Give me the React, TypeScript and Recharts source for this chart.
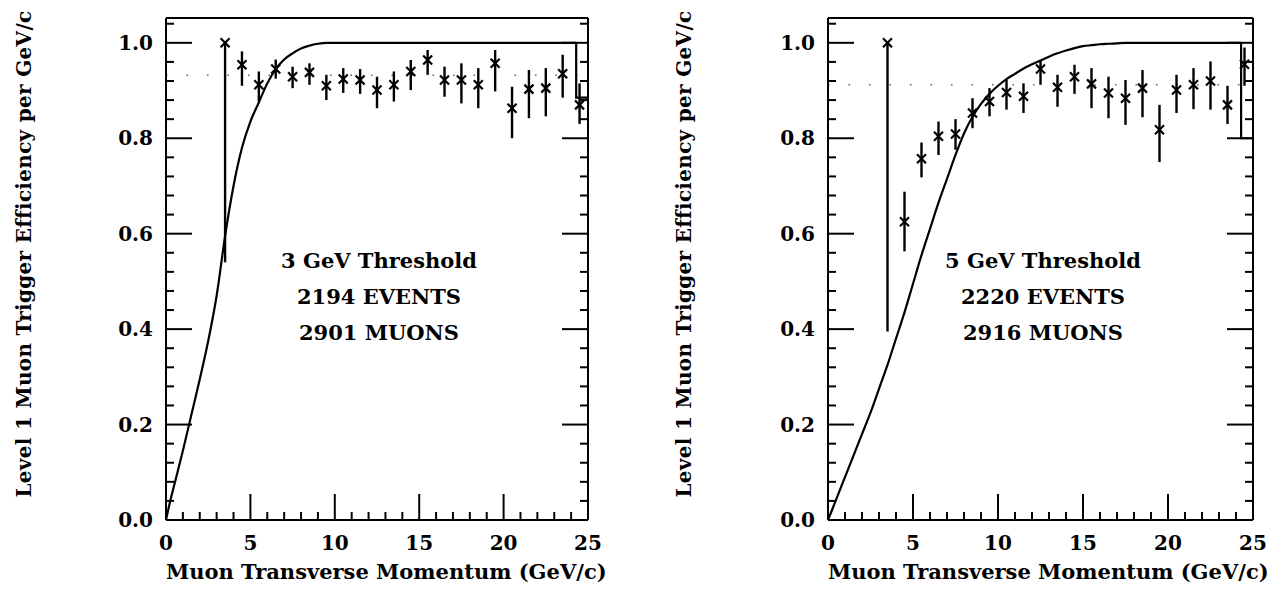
import React from "react";
import { ComposedChart, Line, Scatter, ErrorBar, XAxis, YAxis, ReferenceLine } from "recharts";

const FONT = '"DejaVu Serif", serif';

// bin centres, GeV/c
const binCenters = [
  3.5, 4.5, 5.5, 6.5, 7.5, 8.5, 9.5, 10.5, 11.5, 12.5, 13.5,
  14.5, 15.5, 16.5, 17.5, 18.5, 19.5, 20.5, 21.5, 22.5, 23.5, 24.5,
];

// 3 GeV threshold: efficiency, lower and upper end of error bar
const eff3 = [1.0, 0.954, 0.912, 0.945, 0.929, 0.938, 0.91, 0.924, 0.922, 0.901, 0.912, 0.94, 0.964, 0.922, 0.922, 0.912, 0.957, 0.863, 0.903, 0.905, 0.935, 0.87];
const lo3 = [0.54, 0.91, 0.877, 0.925, 0.905, 0.912, 0.88, 0.895, 0.893, 0.863, 0.877, 0.901, 0.933, 0.887, 0.873, 0.863, 0.898, 0.8, 0.842, 0.846, 0.885, 0.83];
const hi3 = [1.0, 0.982, 0.94, 0.965, 0.95, 0.957, 0.933, 0.947, 0.945, 0.929, 0.94, 0.964, 0.985, 0.95, 0.957, 0.947, 0.985, 0.908, 0.943, 0.947, 0.975, 0.915];

// 5 GeV threshold
const eff5 = [1.0, 0.625, 0.757, 0.804, 0.809, 0.853, 0.877, 0.896, 0.888, 0.945, 0.907, 0.929, 0.914, 0.895, 0.884, 0.905, 0.818, 0.901, 0.912, 0.92, 0.87, 0.955];
const lo5 = [0.395, 0.563, 0.718, 0.765, 0.776, 0.821, 0.846, 0.86, 0.853, 0.912, 0.866, 0.893, 0.863, 0.842, 0.828, 0.844, 0.75, 0.853, 0.861, 0.86, 0.83, 0.91];
const hi5 = [1.0, 0.688, 0.791, 0.835, 0.84, 0.884, 0.905, 0.922, 0.915, 0.964, 0.933, 0.954, 0.947, 0.929, 0.922, 0.943, 0.87, 0.933, 0.947, 0.961, 0.91, 0.99];

// simulated turn-on curves
const curveX = [
  0, 0.25, 0.5, 1, 1.5, 2, 2.5, 3, 3.5, 4, 4.5, 5, 5.5, 6, 6.5, 7, 7.5, 8, 8.5,
  9, 9.5, 10, 10.5, 11, 11.5, 12, 12.5, 13, 13.5, 14, 14.5, 15, 15.5, 16, 16.5,
  17, 17.5, 18, 20, 22, 24.3,
];
const turnOn3 = [
  0, 0.04, 0.075, 0.145, 0.22, 0.295, 0.375, 0.47, 0.595, 0.7, 0.78, 0.835, 0.875,
  0.915, 0.945, 0.965, 0.978, 0.988, 0.994, 0.998, 1, 1, 1, 1, 1, 1, 1, 1, 1, 1,
  1, 1, 1, 1, 1, 1, 1, 1, 1, 1, 1,
];
const turnOn5 = [
  0, 0.022, 0.045, 0.09, 0.135, 0.18, 0.225, 0.275, 0.325, 0.38, 0.435, 0.495,
  0.555, 0.61, 0.665, 0.715, 0.765, 0.81, 0.845, 0.872, 0.893, 0.91, 0.924, 0.935,
  0.946, 0.955, 0.963, 0.971, 0.978, 0.984, 0.989, 0.993, 0.995, 0.997, 0.998,
  0.999, 1, 1, 1, 1, 1,
];

// last-bin step of each curve
const edgeX = [24.3, 24.3, 25];
const edge3 = [1, 0.885, 0.885];
const edge5 = [1, 0.8, 0.8];

const xTicks = [0, 1, 2, 3, 4, 5, 6, 7, 8, 9, 10, 11, 12, 13, 14, 15, 16, 17, 18, 19, 20, 21, 22, 23, 24, 25];
const yTicks = [
  0, 0.04, 0.08, 0.12, 0.16, 0.2, 0.24, 0.28, 0.32, 0.36, 0.4, 0.44, 0.48, 0.52,
  0.56, 0.6, 0.64, 0.68, 0.72, 0.76, 0.8, 0.84, 0.88, 0.92, 0.96, 1.0, 1.04,
];

const panels = [
  {
    title: "3 GeV Threshold",
    events: "2194 EVENTS",
    muons: "2901 MUONS",
    eff: eff3, lo: lo3, hi: hi3, curve: turnOn3, edge: edge3, plateau: 0.932,
    left: 0, width: 640, margin: { top: 8, left: 106, right: 42, bottom: 29 },
    textX: 379, plotX: 166, plotW: 422,
  },
  {
    title: "5 GeV Threshold",
    events: "2220 EVENTS",
    muons: "2916 MUONS",
    eff: eff5, lo: lo5, hi: hi5, curve: turnOn5, edge: edge5, plateau: 0.912,
    left: 660, width: 617, margin: { top: 8, left: 108, right: 14, bottom: 29 },
    textX: 383, plotX: 168, plotW: 425,
  },
];

const MAJOR = 26;
const MINOR = 8;
const TICK_FONT = 20;

const isMajorX = (v: number) => v % 5 === 0;
const isMajorY = (v: number) => Math.abs(v * 5 - Math.round(v * 5)) < 1e-6;

const BottomTick = ({ x, y, payload }: any) => {
  const v = payload.value;
  const major = isMajorX(v);
  return (
    <g>
      <line x1={x} y1={y} x2={x} y2={y - (major ? MAJOR : MINOR)} stroke="#000" strokeWidth={2} />
      {major && (
        <text x={x} y={y + 30} textAnchor="middle" fontFamily={FONT} fontWeight="bold" fontSize={TICK_FONT} fill="#000">
          {v}
        </text>
      )}
    </g>
  );
};

const TopTick = ({ x, y, payload }: any) => (
  <line x1={x} y1={y} x2={x} y2={y + (isMajorX(payload.value) ? MAJOR : MINOR)} stroke="#000" strokeWidth={2} />
);

const LeftTick = ({ x, y, payload }: any) => {
  const v = payload.value;
  const major = isMajorY(v);
  return (
    <g>
      <line x1={x} y1={y} x2={x + (major ? MAJOR : MINOR)} y2={y} stroke="#000" strokeWidth={2} />
      {major && (
        <text x={x - 13} y={y + 7} textAnchor="end" fontFamily={FONT} fontWeight="bold" fontSize={TICK_FONT} fill="#000">
          {v.toFixed(1)}
        </text>
      )}
    </g>
  );
};

const RightTick = ({ x, y, payload }: any) => (
  <line x1={x} y1={y} x2={x - (isMajorY(payload.value) ? MAJOR : MINOR)} y2={y} stroke="#000" strokeWidth={2} />
);

const Cross = ({ cx, cy }: any) => {
  const s = 4.5;
  return (
    <g stroke="#000" strokeWidth={2.2}>
      <line x1={cx - s} y1={cy - s} x2={cx + s} y2={cy + s} />
      <line x1={cx - s} y1={cy + s} x2={cx + s} y2={cy - s} />
    </g>
  );
};

const textStyle: React.CSSProperties = {
  position: "absolute",
  fontFamily: FONT,
  fontWeight: "bold",
  color: "#000",
  whiteSpace: "nowrap",
};

const Panel = ({ panel }: any) => {
  const points = binCenters.map((x, i) => ({
    x,
    y: panel.eff[i],
    err: [panel.eff[i] - panel.lo[i], panel.hi[i] - panel.eff[i]],
  }));
  const curve = curveX.map((x, i) => ({ x, y: panel.curve[i] }));
  const edge = edgeX.map((x, i) => ({ x, y: panel.edge[i] }));

  return (
    <div style={{ position: "absolute", left: panel.left, top: 0, width: panel.width, height: 589 }}>
      <ComposedChart width={panel.width} height={589} margin={panel.margin}>
        <XAxis
          xAxisId={0}
          type="number"
          dataKey="x"
          domain={[0, 25]}
          ticks={xTicks}
          interval={0}
          tickSize={0}
          tickMargin={0}
          height={40}
          allowDataOverflow
          axisLine={{ stroke: "#000", strokeWidth: 2 }}
          tick={BottomTick}
        />
        <XAxis
          xAxisId="top"
          orientation="top"
          type="number"
          domain={[0, 25]}
          ticks={xTicks}
          interval={0}
          tickSize={0}
          tickMargin={0}
          height={10}
          allowDataOverflow
          axisLine={{ stroke: "#000", strokeWidth: 2 }}
          tick={TopTick}
        />
        <YAxis
          yAxisId={0}
          type="number"
          domain={[0, 1.052]}
          ticks={yTicks}
          interval={0}
          tickSize={0}
          tickMargin={0}
          width={60}
          allowDataOverflow
          axisLine={{ stroke: "#000", strokeWidth: 2 }}
          tick={LeftTick}
        />
        <YAxis
          yAxisId="right"
          orientation="right"
          type="number"
          domain={[0, 1.052]}
          ticks={yTicks}
          interval={0}
          tickSize={0}
          tickMargin={0}
          width={10}
          allowDataOverflow
          axisLine={{ stroke: "#000", strokeWidth: 2 }}
          tick={RightTick}
        />
        <ReferenceLine y={panel.plateau} stroke="#666" strokeWidth={1.4} strokeDasharray="1.5 19" />
        <Line
          data={curve}
          dataKey="y"
          type="monotone"
          stroke="#000"
          strokeWidth={2.2}
          dot={false}
          activeDot={false}
          isAnimationActive={false}
        />
        <Line
          data={edge}
          dataKey="y"
          type="linear"
          stroke="#000"
          strokeWidth={2.2}
          dot={false}
          activeDot={false}
          isAnimationActive={false}
        />
        <Scatter data={points} dataKey="y" shape={<Cross />} isAnimationActive={false}>
          <ErrorBar dataKey="err" direction="y" width={0} stroke="#000" strokeWidth={2.4} isAnimationActive={false} />
        </Scatter>
      </ComposedChart>

      <div
        style={{
          ...textStyle,
          fontSize: 20,
          letterSpacing: 0.3,
          left: 24,
          top: 254,
          transform: "translate(-50%, -50%) rotate(-90deg)",
        }}
      >
        Level 1 Muon Trigger Efficiency per GeV/c
      </div>
      <div
        style={{
          ...textStyle,
          fontSize: 21,
          lineHeight: "25px",
          left: panel.plotX,
          width: panel.plotW,
          top: 559,
          textAlign: "center",
        }}
      >
        Muon Transverse Momentum (GeV/c)
      </div>
      <div
        style={{
          ...textStyle,
          fontSize: 21,
          left: panel.textX - 120,
          width: 240,
          top: 243,
          textAlign: "center",
          lineHeight: "36px",
        }}
      >
        <div>{panel.title}</div>
        <div>{panel.events}</div>
        <div>{panel.muons}</div>
      </div>
    </div>
  );
};

export default function App() {
  return (
    <div style={{ position: "absolute", left: 0, top: 0, width: 1277, height: 589, background: "#fff", overflow: "hidden" }}>
      <Panel panel={panels[0]} />
      <Panel panel={panels[1]} />
    </div>
  );
}
